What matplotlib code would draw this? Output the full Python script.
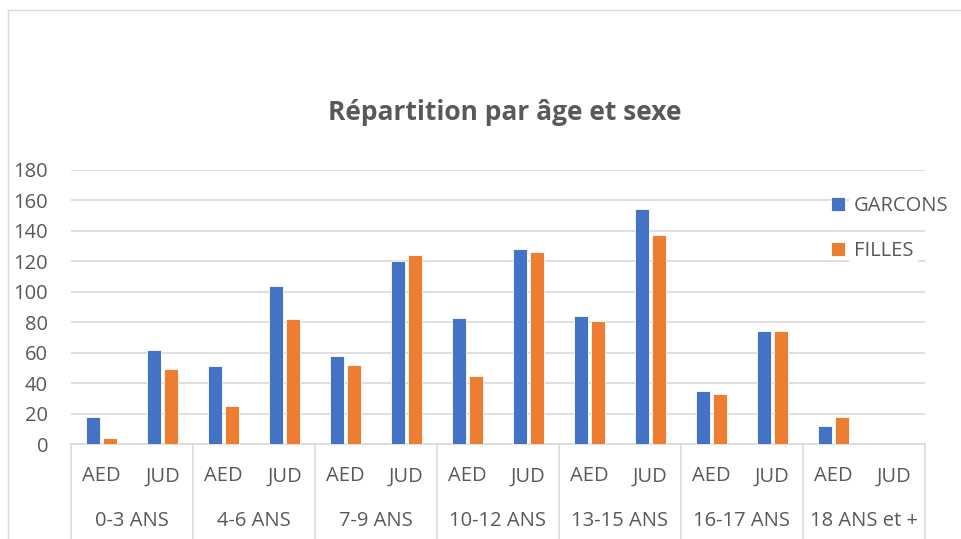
import matplotlib.pyplot as plt
from matplotlib.lines import Line2D

plt.rcParams['font.family'] = ['Open Sans', 'DejaVu Sans']

groupes = ['0-3 ANS', '4-6 ANS', '7-9 ANS', '10-12 ANS', '13-15 ANS', '16-17 ANS', '18 ANS et +']
sous_cat = ['AED', 'JUD']
garcons = [18, 62, 51, 104, 58, 120, 83, 128, 84, 154, 35, 74, 12, 0]
filles = [4, 49, 25, 82, 52, 124, 45, 126, 81, 137, 33, 74, 18, 0]

gris = '#595959'
fig = plt.figure(figsize=(9.61, 5.39), dpi=100)
ax = fig.add_axes([0.0739, 0.176, 0.8886, 0.509])

x = list(range(len(garcons)))
w = 0.23
ax.bar([i - 0.145 for i in x], garcons, width=w, color='#4472C4', edgecolor='white', linewidth=0.6, label='GARCONS', zorder=3)
ax.bar([i + 0.145 for i in x], filles, width=w, color='#ED7D31', edgecolor='white', linewidth=0.6, label='FILLES', zorder=3)

ax.set_xlim(-0.5, len(x) - 0.5)
ax.set_ylim(0, 180)
ax.set_yticks(range(0, 181, 20))
ax.grid(axis='y', color='#D9D9D9', linewidth=1.2, zorder=0)
for s in ['top', 'right', 'left']:
    ax.spines[s].set_visible(False)
ax.spines['bottom'].set_color('#D9D9D9')
ax.spines['bottom'].set_linewidth(1.2)
ax.tick_params(axis='y', length=0, labelsize=14.5, labelcolor=gris, pad=16.5)

# axe des categories a deux niveaux
ax.set_xticks(x)
ax.set_xticklabels([sous_cat[i % 2] for i in x], fontsize=14.5, color=gris)
ax.tick_params(axis='x', length=0, pad=16)
for k, g in enumerate(groupes):
    ax.text(2 * k + 0.5, -0.281, g, transform=ax.get_xaxis_transform(), ha='center', va='center',
            fontsize=14.5, color=gris)
for k in range(len(groupes) + 1):
    ax.plot([2 * k - 0.5, 2 * k - 0.5], [0, -0.35], transform=ax.get_xaxis_transform(),
            color='#D9D9D9', linewidth=1.2, clip_on=False)

fig.text(0.525, 0.792, 'Répartition par âge et sexe', ha='center', va='center',
         fontsize=19, fontweight='bold', color=gris)

leg = ax.legend(loc='upper left', bbox_to_anchor=(0.885, 0.918), frameon=False, fontsize=14.5,
                handlelength=0.7, handleheight=0.7, labelspacing=1.25, borderaxespad=0,
                borderpad=0.2, handletextpad=0.45)
for t in leg.get_texts():
    t.set_color(gris)
    t.set_bbox(dict(facecolor='white', edgecolor='none', pad=3.5))

fig.add_artist(Line2D([0.0083, 1.0], [0.981, 0.981], color='#D9D9D9', linewidth=1))
fig.add_artist(Line2D([0.0083, 0.0083], [0.0, 0.981], color='#D9D9D9', linewidth=1))

fig.savefig('out.png', dpi=100)
